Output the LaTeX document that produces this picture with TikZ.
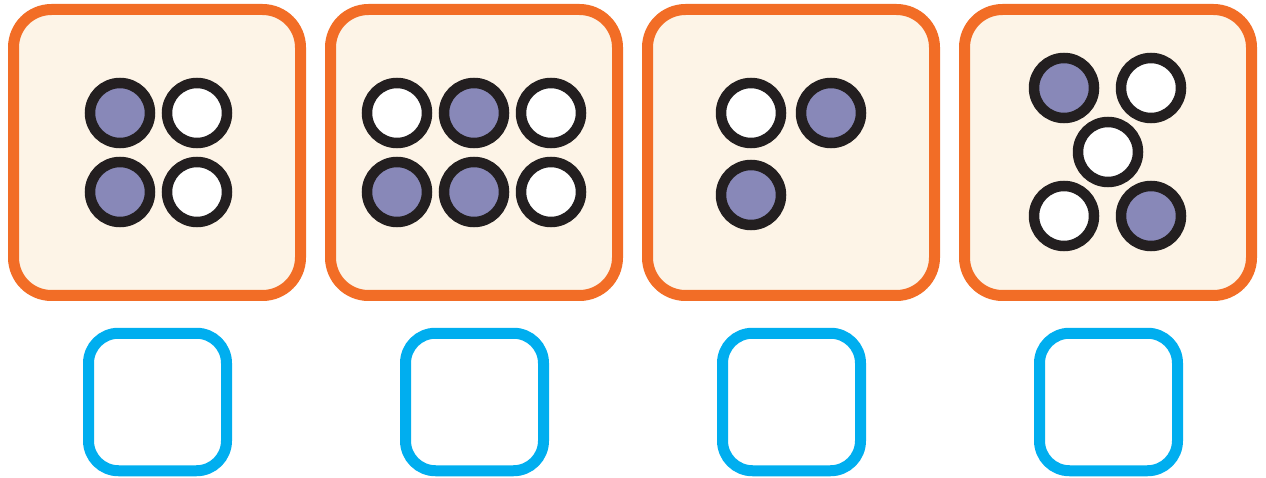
\documentclass[tikz,border=0pt]{standalone}
\definecolor{frameorange}{RGB}{242,109,38}
\definecolor{cream}{RGB}{253,244,231}
\definecolor{dotpurple}{RGB}{136,136,184}
\definecolor{dotring}{RGB}{35,31,32}
\definecolor{answerblue}{RGB}{0,174,239}
\tikzset{
  card/.style={draw=frameorange, fill=cream, line width=11pt, rounded corners=38pt,
    minimum width=287pt, minimum height=286pt, inner sep=0pt},
  answer/.style={draw=answerblue, fill=white, line width=11pt, rounded corners=30pt,
    minimum width=138pt, minimum height=137.5pt, inner sep=0pt},
  dot/.style={circle, draw=dotring, line width=10.5pt, minimum size=60pt, inner sep=0pt},
  full/.style={dot, fill=dotpurple},
  empty/.style={dot, fill=white}
}
\begin{document}
\begin{tikzpicture}[x=1pt,y=-1pt]
\useasboundingbox (0,0) rectangle (1266,478);
% cards
\node[card] (c1) at (157,152.5) {};
\node[card] (c2) at (474,152.5) {};
\node[card] (c3) at (791,152.5) {};
\node[card] (c4) at (1108,152.5) {};
% answer boxes
\node[answer] (a1) at (157.5,402) {};
\node[answer] (a2) at (474.5,402) {};
\node[answer] (a3) at (791.5,402) {};
\node[answer] (a4) at (1108.5,402) {};
% card 1
\node[full]  (d11) at (120,113) {};
\node[empty] (d12) at (197,113) {};
\node[full]  (d13) at (120,192) {};
\node[empty] (d14) at (197,192) {};
% card 2
\node[empty] (d21) at (397,113) {};
\node[full]  (d22) at (474,113) {};
\node[empty] (d23) at (551,113) {};
\node[full]  (d24) at (397,192) {};
\node[full]  (d25) at (474,192) {};
\node[empty] (d26) at (551,192) {};
% card 3
\node[empty] (d31) at (751,113) {};
\node[full]  (d32) at (831,113) {};
\node[full]  (d33) at (751,195) {};
% card 4
\node[full]  (d41) at (1064,88) {};
\node[empty] (d42) at (1151,88) {};
\node[empty] (d43) at (1108,152) {};
\node[empty] (d44) at (1064,216) {};
\node[full]  (d45) at (1151,216) {};
\end{tikzpicture}
\end{document}
